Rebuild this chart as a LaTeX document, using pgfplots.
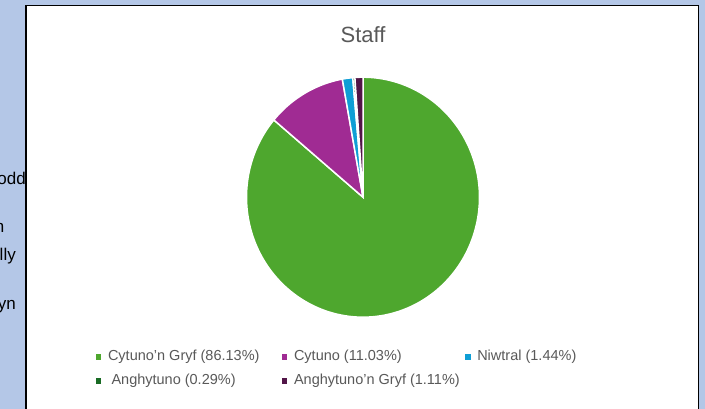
\documentclass[border=0pt]{standalone}
\usepackage{fontspec}
\setmainfont{Liberation Sans}
\usepackage{pgfplots}
\pgfplotsset{compat=1.18}
\definecolor{bgblue}{HTML}{B4C7E7}
\definecolor{cA}{HTML}{4EA72E}
\definecolor{cB}{HTML}{A02B93}
\definecolor{cC}{HTML}{0F9ED5}
\definecolor{cD}{HTML}{196B24}
\definecolor{cE}{HTML}{521548}
\definecolor{txtgray}{HTML}{595959}
\begin{document}
\begin{tikzpicture}
\useasboundingbox (0pt,0pt) rectangle (705pt,409pt);
\clip (0pt,0pt) rectangle (705pt,409pt);
\fill[bgblue] (0pt,0pt) rectangle (705pt,409pt);
% fragments of slide text behind the chart
\begin{scope}[every node/.style={anchor=base east, inner sep=0pt, font=\fontsize{17}{20}\selectfont}]
\node at (26pt,224pt) {odd};
\node at (4.5pt,176pt) {n};
\node at (16pt,148pt) {lly};
\node at (16pt,99pt) {yn};
\end{scope}
\draw[line width=1.5pt, fill=white] (25.8pt,403.5pt) rectangle (698.5pt,-10pt);
\begin{axis}[
  at={(363pt,211.8pt)}, anchor=origin,
  scale only axis, width=233pt, height=240pt,
  xmin=-1, xmax=1, ymin=-1, ymax=1,
  hide axis, clip=false,
  title={Staff},
  title style={at={(0.5,1)}, anchor=base, yshift=28.5pt, inner sep=0pt,
    font=\fontsize{22}{24}\selectfont, text=txtgray},
  legend columns=3,
  legend cell align=left,
  legend image code/.code={\fill[#1,draw=none] (0pt,-2.9pt) rectangle (5.8pt,2.9pt);
     \path[draw=none,fill=none] (12.5pt,0pt) circle (0pt);},
  legend style={draw=none, fill=none, at={(-0.648,-0.139)}, anchor=north west,
    inner sep=0pt, outer sep=0pt, font=\fontsize{14.5}{16}\selectfont, text=txtgray,
    row sep=12pt,
    nodes={inner sep=0pt, text height=9.5pt, text depth=3pt},
    /tikz/column 2/.append style={column sep=22pt},
    /tikz/column 4/.append style={column sep=5pt}},
]
\addplot[fill=cA, draw=white, line width=1.5pt, domain={90-3.6*86.13}:90, samples=160]
  ({cos(x)},{sin(x)}) -- (0,0) -- cycle;
\addlegendentry{Cytuno'n Gryf (86.13\%)}
\addplot[fill=cB, draw=white, line width=1.5pt, domain={90-3.6*(86.13+11.03)}:{90-3.6*86.13}, samples=30]
  ({cos(x)},{sin(x)}) -- (0,0) -- cycle;
\addlegendentry{Cytuno (11.03\%)}
\addplot[fill=cC, draw=white, line width=1.5pt, domain={90-3.6*(86.13+11.03+1.44)}:{90-3.6*(86.13+11.03)}, samples=8]
  ({cos(x)},{sin(x)}) -- (0,0) -- cycle;
\addlegendentry{Niwtral (1.44\%)}
\addplot[fill=cD, draw=white, line width=1.5pt, domain={90-3.6*(86.13+11.03+1.44+0.29)}:{90-3.6*(86.13+11.03+1.44)}, samples=4]
  ({cos(x)},{sin(x)}) -- (0,0) -- cycle;
\addlegendentry{\hspace*{3.5pt}Anghytuno (0.29\%)}
\addplot[fill=cE, draw=white, line width=1.5pt, domain={90-3.6*(86.13+11.03+1.44+0.29+1.11)}:{90-3.6*(86.13+11.03+1.44+0.29)}, samples=6]
  ({cos(x)},{sin(x)}) -- (0,0) -- cycle;
\addlegendentry{Anghytuno'n Gryf (1.11\%)}
\end{axis}
\end{tikzpicture}
\end{document}
